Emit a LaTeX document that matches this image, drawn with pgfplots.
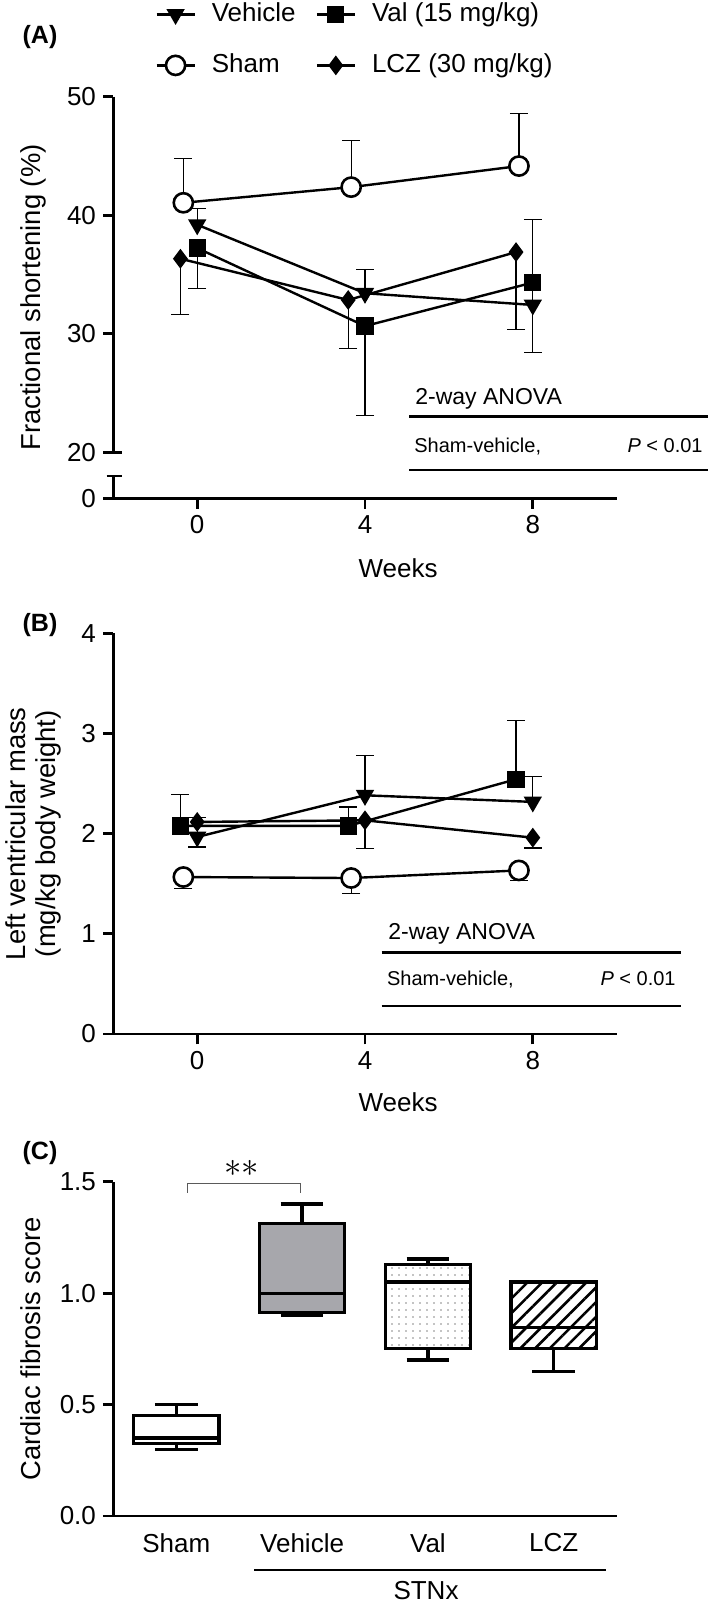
\documentclass[border=0pt]{standalone}
\usepackage{fontspec}
\setmainfont{Liberation Sans}
\usepackage{pgfplots}
\pgfplotsset{compat=1.18}
\usepgfplotslibrary{statistics}
\usetikzlibrary{patterns.meta}
\definecolor{boxgray}{RGB}{167,167,172}
\definecolor{brgray}{RGB}{90,90,90}

\pgfplotsset{
  panel/.style={
    scale only axis, clip=false,
    axis lines=left,
    x axis line style={-, line width=1.4pt},
    y axis line style={-, line width=1.4pt},
    tick align=outside, major tick length=5.15pt,
    tick style={line width=1.4pt, black},
    tick label style={font=\fontsize{13}{15}\selectfont},
    ylabel style={font=\fontsize{13.7}{15}\selectfont},
    xlabel style={font=\fontsize{13}{15}\selectfont},
  },
  ser/.style={black, line width=1.2pt,
    error bars/y explicit,
    error bars/error bar style={line width=0.6pt, black},
    error bars/error mark options={rotate=90, line width=0.6pt, black, mark size=4.5pt}},
  mveh/.style={mark=triangle*, mark options={solid, rotate=180, fill=black, line width=0.8pt, mark size=4.5pt}},
  mval/.style={mark=square*, mark options={solid, fill=black, line width=0.8pt, mark size=3.9pt}},
  msham/.style={mark=*, mark options={solid, fill=white, line width=1.3pt, mark size=4.8pt}},
  mlcz/.style={mark=diamond*, mark options={solid, fill=black, line width=0.8pt, mark size=4.3pt}},
}

\begin{document}
\begin{tikzpicture}
\useasboundingbox (0,0) rectangle (354.5pt,-802pt);

% ---------------- Panel A ----------------
\begin{axis}[panel, at={(56.65pt,-249.15pt)}, anchor=south west,
  width=251.7pt, height=200.8pt,
  xmin=-2, xmax=10, ymin=16.12, ymax=50,
  xtick={0,4,8}, xticklabels={0,4,8},
  ytick={16.12,20,30,40,50}, yticklabels={0,20,30,40,50},
  y axis line style={draw=none},
  xlabel={Weeks}, xlabel style={at={(axis description cs:0.5656,-0.1743)}, anchor=center},
  ylabel={Fractional shortening (\%)},
  ylabel style={at={(axis description cs:-0.1595,0.5)}, anchor=center},
  legend columns=2, legend cell align=left,
  legend style={draw=none, fill=none, inner sep=0pt,
    at={(axis description cs:0.0828,1.2383)}, anchor=north west,
    font=\fontsize{13}{15}\selectfont, row sep=12.5pt,
    nodes={inner sep=0pt, text height=10pt, text depth=3pt},
    /tikz/every odd column/.append style={column sep=8pt},
    /tikz/every even column/.append style={column sep=10pt}},
  legend image code/.code={\draw[mark repeat=2,mark phase=2,#1] plot coordinates {(0pt,0pt)(9.5pt,0pt)(19pt,0pt)};},
]
\addplot[ser, mveh, error bars/y dir=plus] table[x=x, y=y, y error=e] {
x y e
0 39.20 1.36
4 33.42 1.98
8 32.43 7.20
};
\addlegendentry{Vehicle}
\addplot[ser, mval, error bars/y dir=minus] table[x=x, y=y, y error=e] {
x y e
0 37.23 3.39
4 30.65 7.54
8 34.32 5.93
};
\addlegendentry{Val (15 mg/kg)}
\addplot[ser, msham, error bars/y dir=plus] table[x=x, y=y, y error=e] {
x y e
-0.33 41.05 3.75
3.67 42.37 3.96
7.67 44.15 4.45
};
\addlegendentry{Sham}
\addplot[ser, mlcz, error bars/y dir=minus] table[x=x, y=y, y error=e] {
x y e
-0.4 36.33 4.69
3.6 32.85 4.09
7.6 36.89 6.52
};
\addlegendentry{LCZ (30 mg/kg)}
% broken y axis
\draw[line width=1.4pt] (axis cs:-2,50) -- (axis cs:-2,20);
\draw[line width=1.4pt] (axis cs:-2,18) -- (axis cs:-2,16.12);
\draw[line width=1.4pt] (axis cs:-2,20) -- (axis cs:-1.8,20);
\draw[line width=1.4pt] (axis cs:-2.16,18) -- (axis cs:-1.8,18);
\end{axis}

% ---------------- Panel B ----------------
\begin{axis}[panel, at={(56.65pt,-517pt)}, anchor=south west,
  width=251.7pt, height=200.35pt,
  xmin=-2, xmax=10, ymin=0, ymax=4,
  xtick={0,4,8}, xticklabels={0,4,8},
  ytick={0,1,2,3,4}, yticklabels={0,1,2,3,4},
  xlabel={Weeks}, xlabel style={at={(axis description cs:0.5656,-0.169)}, anchor=center},
  ylabel={Left ventricular mass\\(mg/kg body weight)},
  ylabel style={at={(axis description cs:-0.1595,0.5)}, anchor=center, align=center},
]
\addplot[ser, mveh, error bars/y dir=plus] table[x=x, y=y, y error=e] {
x y e
0 1.967 0.193
4 2.383 0.394
8 2.317 0.250
};
\addplot[ser, mval, error bars/y dir=plus] table[x=x, y=y, y error=e] {
x y e
-0.4 2.077 0.313
3.6 2.077 0.190
7.6 2.543 0.590
};
\addplot[ser, msham, error bars/y dir=minus] table[x=x, y=y, y error=e] {
x y e
-0.33 1.567 0.117
3.67 1.557 0.157
7.67 1.633 0.100
};
\addplot[ser, mlcz, error bars/y dir=minus] table[x=x, y=y, y error=e] {
x y e
0 2.117 0.250
4 2.133 0.283
8 1.960 0.103
};
\end{axis}

% ---------------- Panel C ----------------
\begin{axis}[panel, at={(56.65pt,-758pt)}, anchor=south west,
  width=251.7pt, height=167.15pt,
  xmin=-0.5, xmax=3.5, ymin=0, ymax=1.5,
  xtick={0,1,2,3}, xticklabels={Sham,Vehicle,Val,LCZ},
  major x tick style={draw=none},
  ytick={0,0.5,1,1.5}, yticklabels={0.0,0.5,1.0,1.5},
  ylabel={Cardiac fibrosis score},
  ylabel style={at={(axis description cs:-0.1635,0.5)}, anchor=center},
  boxplot/draw direction=y,
]
\addplot[black, line width=1.6pt, fill=white,
  boxplot prepared={draw position=0, lower whisker=0.30, lower quartile=0.325,
  median=0.35, upper quartile=0.45, upper whisker=0.50, box extend=0.68, whisker extend=0.34}] coordinates {};
\addplot[black, line width=1.6pt, fill=boxgray,
  boxplot prepared={draw position=1, lower whisker=0.90, lower quartile=0.912,
  median=1.0, upper quartile=1.314, upper whisker=1.40, box extend=0.68, whisker extend=0.34}] coordinates {};
\addplot[black, line width=1.6pt, pattern={Dots[distance=3.5pt, radius=0.35pt]},
  boxplot prepared={draw position=2, lower whisker=0.70, lower quartile=0.75,
  median=1.05, upper quartile=1.127, upper whisker=1.153, box extend=0.68, whisker extend=0.34}] coordinates {};
\addplot[black, line width=1.6pt, pattern={Lines[angle=45, distance=5.2pt, line width=1.3pt]},
  boxplot prepared={draw position=3, lower whisker=0.65, lower quartile=0.75,
  median=0.847, upper quartile=1.05, upper whisker=1.05, box extend=0.68, whisker extend=0.34}] coordinates {};
\end{axis}

% ---------------- annotations ----------------
\node[font=\bfseries\fontsize{12.5}{14}\selectfont] at (20pt,-18.35pt) {(A)};
\node[font=\bfseries\fontsize{12.5}{14}\selectfont] at (20pt,-312.5pt) {(B)};
\node[font=\bfseries\fontsize{12.5}{14}\selectfont] at (20pt,-576.65pt) {(C)};

\node[anchor=base west, inner sep=0pt, font=\fontsize{11.5}{13}\selectfont] at (207.5pt,-202.5pt) {2-way ANOVA};
\draw[line width=1.35pt] (204.5pt,-208.35pt) -- (354pt,-208.35pt);
\node[anchor=base west, inner sep=0pt, font=\fontsize{10}{12}\selectfont] at (207pt,-226.1pt) {Sham-vehicle,};
\node[anchor=base east, inner sep=0pt, font=\fontsize{10}{12}\selectfont] at (351.5pt,-226.1pt) {\textit{P} < 0.01};
\draw[line width=1.35pt] (204.5pt,-235pt) -- (354pt,-235pt);

\node[anchor=base west, inner sep=0pt, font=\fontsize{11.5}{13}\selectfont] at (194pt,-469.95pt) {2-way ANOVA};
\draw[line width=1.35pt] (190.85pt,-476.15pt) -- (340.35pt,-476.15pt);
\node[anchor=base west, inner sep=0pt, font=\fontsize{10}{12}\selectfont] at (193.35pt,-492.7pt) {Sham-vehicle,};
\node[anchor=base east, inner sep=0pt, font=\fontsize{10}{12}\selectfont] at (338pt,-492.7pt) {\textit{P} < 0.01};
\draw[line width=1.35pt] (190.85pt,-503pt) -- (340.35pt,-503pt);

\draw[brgray, line width=0.6pt] (93.65pt,-596.35pt) -- (93.65pt,-591.65pt) -- (150.35pt,-591.65pt) -- (150.35pt,-596.35pt);
\node[font=\fontsize{17}{17}\selectfont] at (120.85pt,-584pt) {$\ast\ast$};

\draw[line width=1.4pt] (127pt,-785pt) -- (303pt,-785pt);
\node[font=\fontsize{13}{15}\selectfont, anchor=base] at (213pt,-799.5pt) {STNx};
\end{tikzpicture}
\end{document}
